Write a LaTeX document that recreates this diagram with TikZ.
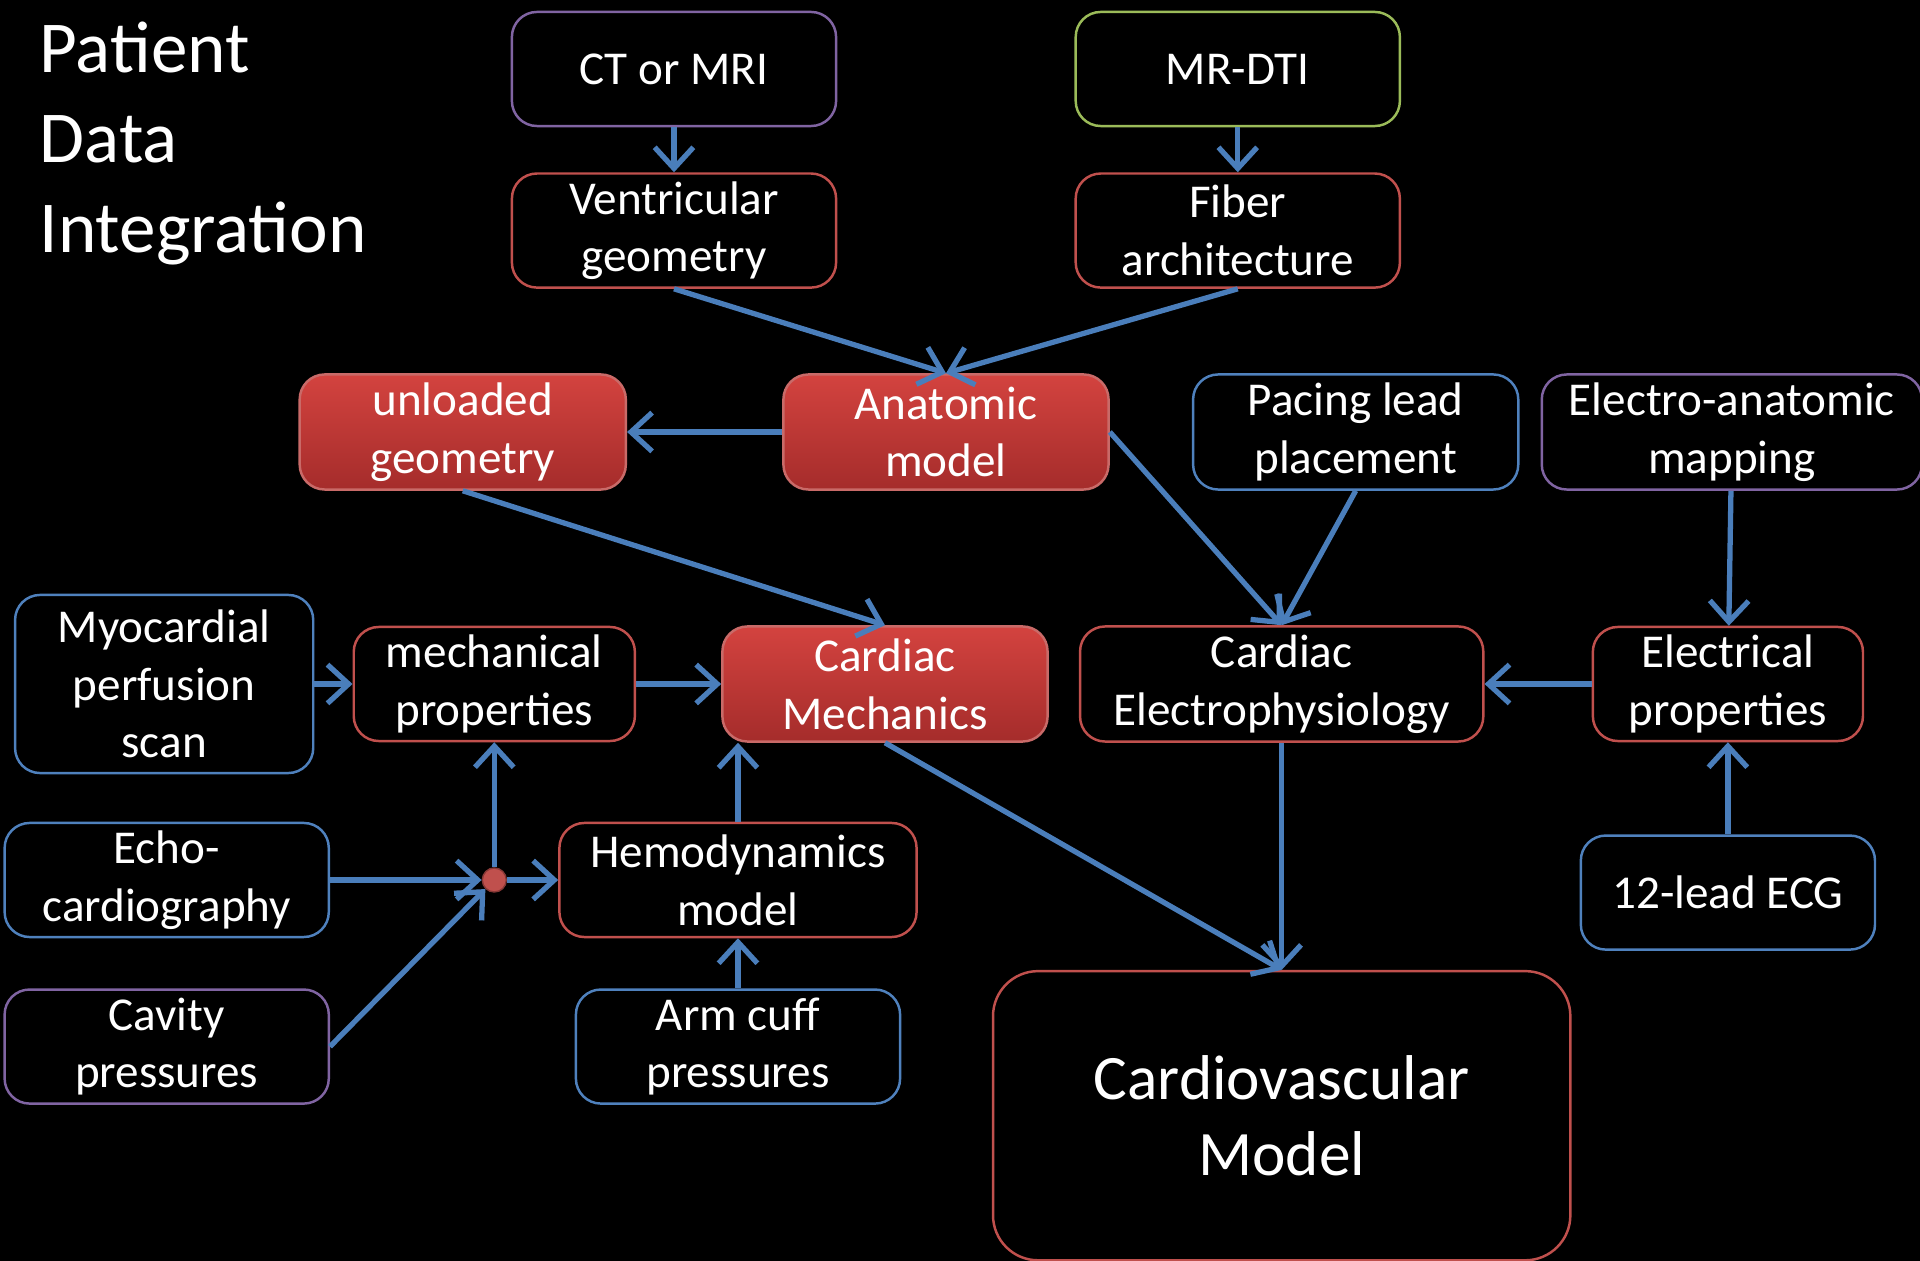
\documentclass[tikz,border=0pt]{standalone}
\usepackage{fontspec}
\setmainfont{Carlito}
\usetikzlibrary{shapes,arrows.meta,positioning}

\definecolor{boxred}{HTML}{C0504D}
\definecolor{boxblue}{HTML}{4F81BD}
\definecolor{boxpurple}{HTML}{8064A2}
\definecolor{boxgreen}{HTML}{9BBB59}
\definecolor{linkblue}{HTML}{4A7EBB}
\definecolor{fillhi}{HTML}{D3433F}
\definecolor{filllo}{HTML}{A52C2B}

\begin{document}
\begin{tikzpicture}[
    x=0.01cm, y=-0.01cm,
    box/.style={rectangle,rounded corners=0.25cm,draw,line width=0.7pt,text=white,
                minimum width=3.24cm,minimum height=1.14cm,align=center,inner sep=2pt,
                font=\fontsize{13.4}{16.4}\selectfont},
    redbox/.style={box,draw=boxred},
    bluebox/.style={box,draw=boxblue},
    purplebox/.style={box,draw=boxpurple},
    greenbox/.style={box,draw=boxgreen},
    corebox/.style={box,draw=boxred!85!white,top color=fillhi,bottom color=filllo},
    dot/.style={circle,fill=boxred,draw=boxred!70!black,minimum size=0.24cm,inner sep=0pt},
    arrow/.style={-{Straight Barb[length=6pt,width=11pt]},line width=1.5pt,draw=linkblue}
]

% Background
\fill[black] (0,0) rectangle (1920,1261);
\useasboundingbox (0,0) rectangle (1920,1261);

% Title
\node[anchor=north west,inner sep=0pt,align=left,text=white,
      font=\fontsize{20.8}{25.6}\selectfont] (title) at (39,21) {Patient\\Data\\Integration};

% Imaging
\node[purplebox] (ctmri) at (674,69) {CT or MRI};
\node[greenbox,right=2.37cm of ctmri] (mrdti) {MR-DTI};
\node[redbox,below=0.45cm of ctmri] (ventgeo) {Ventricular\\geometry};
\node[redbox,below=0.45cm of mrdti] (fiber) {Fiber\\architecture};

% Anatomy row
\node[corebox,minimum width=3.25cm,minimum height=1.15cm] (anatomic) at (946,432) {Anatomic\\model};
\node[corebox,minimum width=3.26cm,minimum height=1.15cm,left=1.55cm of anatomic] (unloaded) {unloaded\\geometry};
\node[bluebox,minimum width=3.25cm,minimum height=1.15cm,right=0.82cm of anatomic] (pacing) {Pacing lead\\placement};
\node[purplebox,minimum width=3.80cm,minimum height=1.15cm,right=0.21cm of pacing] (eamap) {Electro-anatomic\\mapping};

% Mechanics and electrophysiology
\node[corebox,minimum width=3.25cm,minimum height=1.15cm] (mechanics) at (885,684) {Cardiac\\Mechanics};
\node[redbox,minimum width=2.81cm,left=0.85cm of mechanics] (mechprop) {mechanical\\properties};
\node[bluebox,minimum width=2.98cm,minimum height=1.78cm,left=0.38cm of mechprop] (perfusion) {Myocardial\\perfusion\\scan};
\node[redbox,minimum width=4.03cm,minimum height=1.15cm,right=0.30cm of mechanics] (ep) {Cardiac\\Electrophysiology};
\node[redbox,minimum width=2.70cm,right=1.07cm of ep] (elecprop) {Electrical\\properties};
\node[bluebox,minimum width=2.94cm,below=0.92cm of elecprop] (ecg) {12-lead ECG};

% Hemodynamics
\node[redbox,minimum width=3.57cm] (hemo) at (738,880) {Hemodynamics\\model};
\node[bluebox,left=2.28cm of hemo] (echo) {Echo-\\cardiography};
\node[purplebox,below=0.5cm of echo] (cavity) {Cavity\\pressures};
\node[bluebox,below=0.5cm of hemo] (armcuff) {Arm cuff\\pressures};
\node[dot] (junction) at (mechprop.south |- echo.east) {};

% Output
\node[redbox,below=2.27cm of ep,minimum width=5.77cm,minimum height=2.89cm,rounded corners=0.45cm,
      font=\fontsize{18}{21.6}\selectfont] (cvmodel) {Cardiovascular\\Model};

% Arrows
\draw[arrow] (ctmri) -- (ventgeo);
\draw[arrow] (mrdti) -- (fiber);
\draw[arrow] (ventgeo.south) -- (anatomic.north);
\draw[arrow] (fiber.south) -- (anatomic.north);
\draw[arrow] (anatomic) -- (unloaded);
\draw[arrow] (unloaded.south) -- (mechanics.north);
\draw[arrow] (anatomic.east) -- (ep.north);
\draw[arrow] (pacing.south) -- (ep.north);
\draw[arrow] (eamap) -- (elecprop);
\draw[arrow] (elecprop) -- (ep);
\draw[arrow] (ecg) -- (elecprop);
\draw[arrow] (perfusion) -- (mechprop);
\draw[arrow] (mechprop) -- (mechanics);
\draw[arrow] (echo) -- (junction);
\draw[arrow] (cavity.east) -- (junction);
\draw[arrow] (junction) -- (mechprop);
\draw[arrow] (junction) -- (hemo);
\draw[arrow] (hemo) -- (hemo |- mechanics.south);
\draw[arrow] (armcuff) -- (hemo);
\draw[arrow] (mechanics.south) -- (cvmodel.north);
\draw[arrow] (ep) -- (cvmodel);

\end{tikzpicture}
\end{document}
